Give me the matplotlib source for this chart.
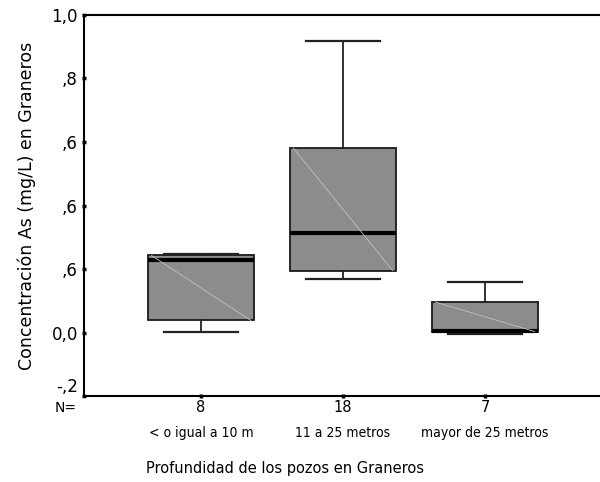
import matplotlib
matplotlib.use("Agg")
import matplotlib.pyplot as plt
from matplotlib.transforms import blended_transform_factory

categories = ["< o igual a 10 m", "11 a 25 metros", "mayor de 25 metros"]
counts = [8, 18, 7]
whislo = [0.003, 0.167, -0.005]
q1 = [0.038, 0.195, 0.003]
med = [0.229, 0.313, 0.005]
q3 = [0.243, 0.581, 0.096]
whishi = [0.247, 0.918, 0.159]
ytick_vals = [-0.2, 0.0, 0.2, 0.4, 0.6, 0.8, 1.0]
ytick_labels = ["-,2", "0,0", ",6", ",6", ",6", ",8", "1,0"]

plt.rcParams['font.family'] = ['DejaVu Sans']
fig = plt.figure(figsize=(6.0, 4.82), dpi=100)
ax = fig.add_axes([0.14, 0.1784, 0.86, 0.7905])

positions = [1, 2, 3]
stats = []
for i in range(3):
    stats.append(dict(med=med[i], q1=q1[i], q3=q3[i], whislo=whislo[i],
                      whishi=whishi[i], fliers=[], label=""))
bw = 0.74
ax.bxp(stats, positions=positions, widths=bw, patch_artist=True,
       showfliers=False,
       boxprops=dict(facecolor="#8c8c8c", edgecolor="#1a1a1a", linewidth=1.3),
       medianprops=dict(color="black", linewidth=3),
       whiskerprops=dict(color="#222222", linewidth=1.3),
       capprops=dict(color="#222222", linewidth=1.6),
       capwidths=0.52)

# light diagonal lines inside boxes
for i, p in enumerate(positions):
    ax.plot([p - bw / 2 + 0.02, p + bw / 2 - 0.02], [q3[i], q1[i]],
            color="#c0c0c0", linewidth=0.6, zorder=3)

ax.set_xlim(0.176, 3.81)
ax.set_ylim(-0.2, 1.0)
ax.set_yticks(ytick_vals)
ax.set_yticklabels(ytick_labels, fontsize=12)
ax.get_yticklabels()[0].set_verticalalignment("bottom")
ax.set_xticks(positions)
ax.set_xticklabels([])
ax.tick_params(axis="both", direction="inout", length=3, width=2.5, color="black")
ax.tick_params(axis="y", pad=3)

for s in ["left", "bottom", "top"]:
    ax.spines[s].set_linewidth(1.5)
    ax.spines[s].set_color("black")
ax.spines["right"].set_visible(False)

trans = blended_transform_factory(ax.transData, ax.transAxes)
ax.text(0.049, -0.031, "N=", transform=trans, ha="center", va="center", fontsize=10, clip_on=False)
for p, n in zip(positions, counts):
    ax.text(p, -0.030, str(n), transform=trans, ha="center", va="center", fontsize=10.5, clip_on=False)
for p, c in zip(positions, categories):
    ax.text(p, -0.097, c, transform=trans, ha="center", va="center", fontsize=10,
            fontstretch="condensed", clip_on=False)

ax.set_ylabel("Concentración As (mg/L) en Graneros", fontsize=12.5, labelpad=11)
fig.text(0.475, 0.029, "Profundidad de los pozos en Graneros", ha="center", va="center", fontsize=10.5)

fig.savefig("out.png", dpi=100)
